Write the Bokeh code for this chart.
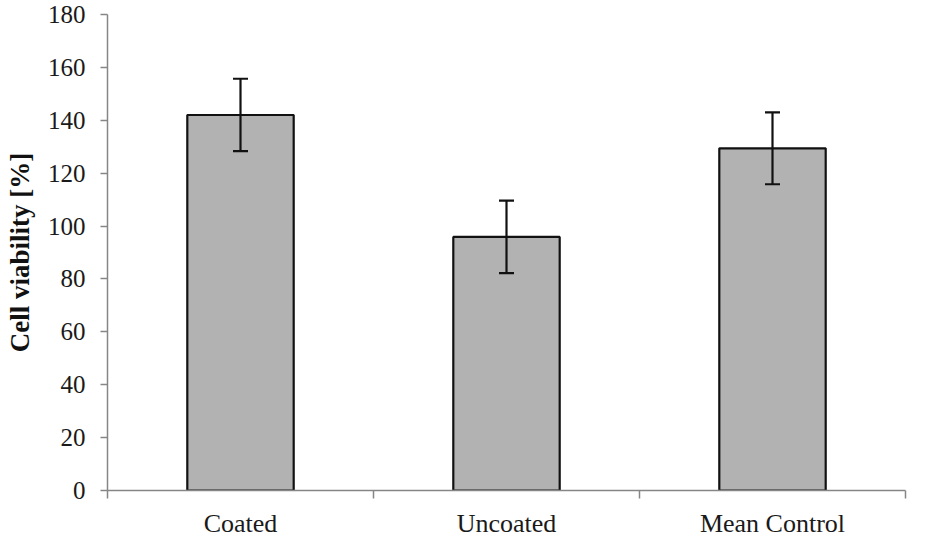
from bokeh.plotting import figure
from bokeh.models import ColumnDataSource, Range1d, FixedTicker, Whisker, TeeHead
from bokeh.embed import file_html
from bokeh.resources import INLINE

categories = ["Coated", "Uncoated", "Mean Control"]
viability = [142.0, 95.9, 129.4]
error = [13.7, 13.7, 13.6]
y_ticks = [0, 20, 40, 60, 80, 100, 120, 140, 160, 180]

xs = [i + 0.5 for i in range(len(categories))]
src = ColumnDataSource(dict(
    x=xs,
    top=viability,
    upper=[v + e for v, e in zip(viability, error)],
    lower=[v - e for v, e in zip(viability, error)],
))

p = figure(width=909, height=540, output_backend="svg", toolbar_location=None,
           x_range=Range1d(0, len(categories)), y_range=Range1d(0, 180),
           min_border_left=107, min_border_right=4, min_border_top=14, min_border_bottom=40)
p.outline_line_color = None
p.grid.grid_line_color = None

p.vbar(x="x", top="top", width=0.40, bottom=0, source=src,
       fill_color="#b2b2b2", line_color="#111111", line_width=2.2)

w = Whisker(base="x", upper="upper", lower="lower", source=src, level="overlay",
            line_color="#111111", line_width=2.2,
            upper_head=TeeHead(size=15, line_color="#111111", line_width=2.2),
            lower_head=TeeHead(size=15, line_color="#111111", line_width=2.2))
p.add_layout(w)

# x axis
xa = p.xaxis[0]
xa.ticker = FixedTicker(ticks=xs, minor_ticks=list(range(len(categories) + 1)))
xa.major_label_overrides = {x: c for x, c in zip(xs, categories)}
xa.major_tick_out = 0
xa.major_tick_in = 0
xa.minor_tick_out = 8
xa.minor_tick_in = 0
xa.minor_tick_line_color = "#868686"
xa.minor_tick_line_width = 1.5
xa.axis_line_color = "#868686"
xa.axis_line_width = 1.5
xa.major_label_standoff = 10
xa.major_label_text_font = "Liberation Serif"
xa.major_label_text_font_size = "26px"
xa.major_label_text_color = "#1a1a1a"

# y axis
ya = p.yaxis[0]
ya.ticker = FixedTicker(ticks=y_ticks)
ya.minor_tick_line_color = None
ya.major_tick_out = 7
ya.major_tick_in = 0
ya.major_tick_line_color = "#868686"
ya.major_tick_line_width = 1.5
ya.axis_line_color = "#868686"
ya.axis_line_width = 1.5
ya.major_label_standoff = 15
ya.major_label_text_font = "Liberation Serif"
ya.major_label_text_font_size = "25px"
ya.major_label_text_color = "#1a1a1a"
ya.axis_label = "Cell viability [%]"
ya.axis_label_text_font = "Liberation Serif"
ya.axis_label_text_font_style = "bold"
ya.axis_label_text_font_size = "27px"
ya.axis_label_text_color = "#111111"
ya.axis_label_standoff = 10

open("out.html", "w").write(file_html(p, INLINE))
